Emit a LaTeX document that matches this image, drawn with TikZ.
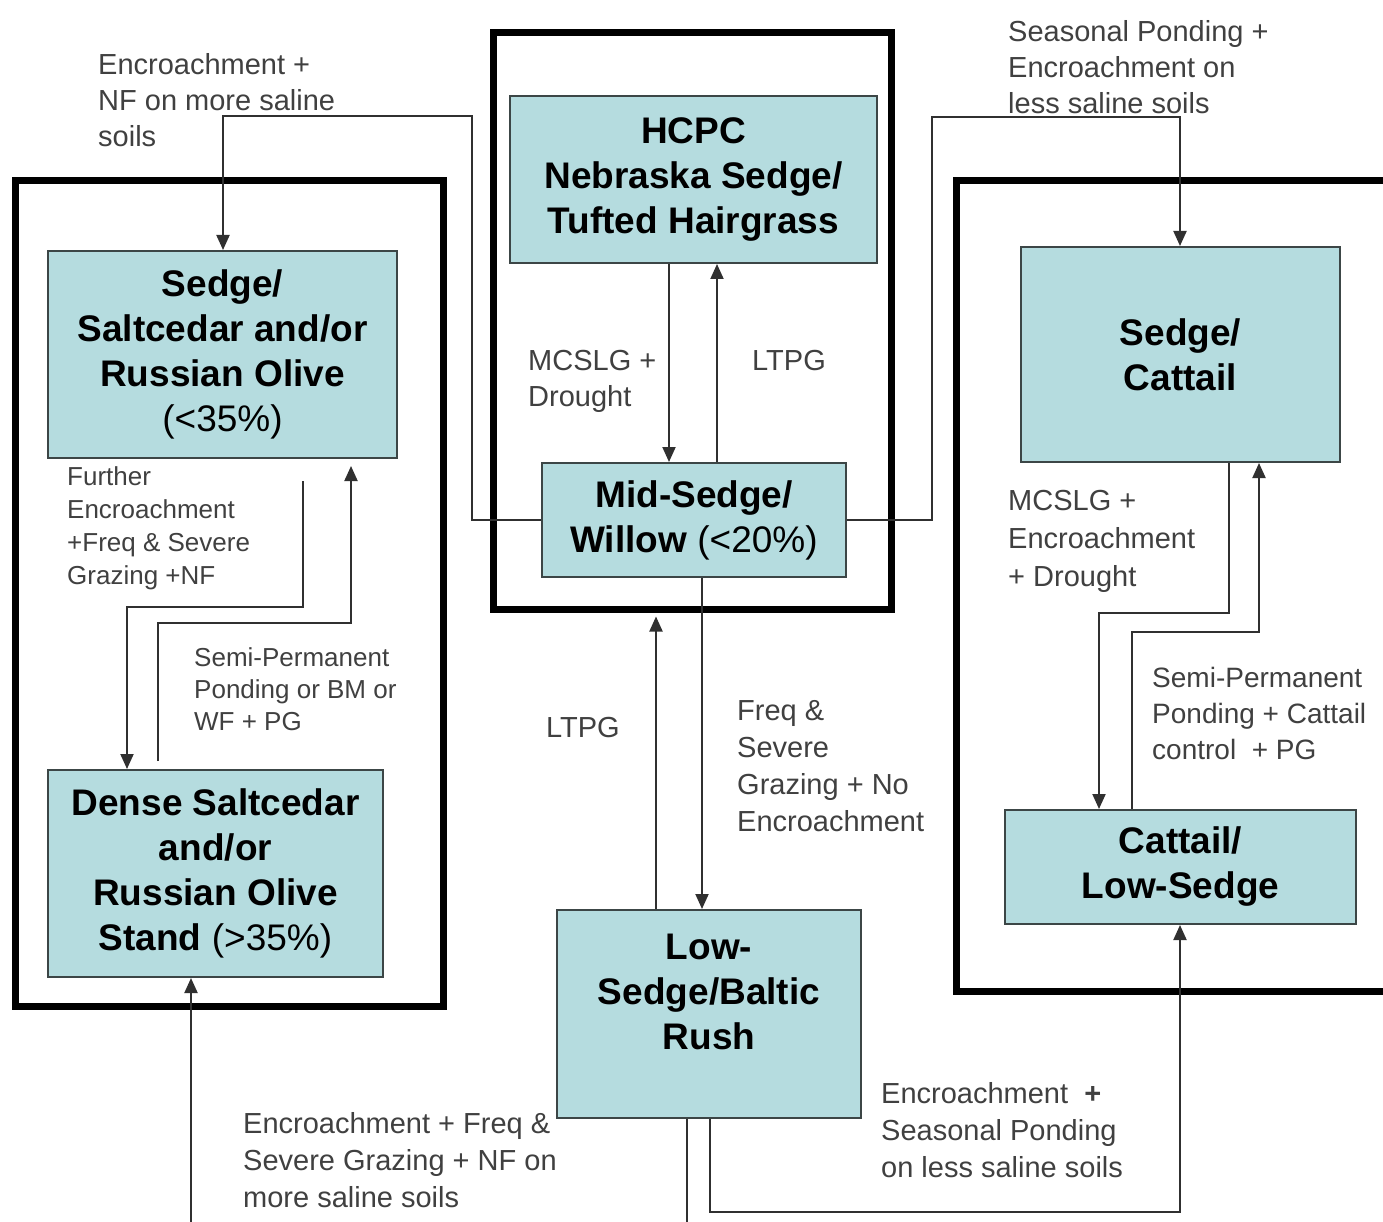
\documentclass[tikz,border=0pt]{standalone}
\usepackage{fontspec}
\setmainfont{Liberation Sans}
\usetikzlibrary{arrows.meta,calc}
\definecolor{boxfill}{HTML}{B5DCDF}
\definecolor{boxline}{HTML}{3C4646}
\definecolor{labgray}{HTML}{404040}
\definecolor{connc}{HTML}{303030}
\begin{document}
\begin{tikzpicture}[x=1pt,y=-1pt,
  box/.style={draw=boxline, line width=2pt, fill=boxfill, align=center, inner sep=0pt,
              font=\fontsize{37}{45}\selectfont\bfseries},
  frame/.style={draw=black, line width=7pt, inner sep=0pt},
  conn/.style={draw=connc, line width=2pt},
  arr/.style={conn, -{Triangle[width=13pt,length=15pt]}},
  lab/.style={anchor=north west, inner sep=0pt, align=left, text=labgray,
              font=\fontsize{29}{36}\selectfont},
  labs/.style={lab, font=\fontsize{26}{33}\selectfont}]
\useasboundingbox (0,0) rectangle (1383,1222);
\clip (0,0) rectangle (1383,1222);
\fill[white] (0,0) rectangle (1383,1222);

% frames
\node[frame, minimum width=428pt, minimum height=825pt] (fl) at (229,593.5) {};
\node[frame, minimum width=398pt, minimum height=576pt] (fc) at (692,321) {};
\node[frame, minimum width=444pt, minimum height=810pt] (fr) at (1178,586) {};

% boxes
\node[box, minimum width=367pt, minimum height=167pt] (hcpc) at (693.5,179.5) {HCPC\\Nebraska Sedge/\\Tufted Hairgrass};
\node[box, minimum width=304pt, minimum height=114pt] (mid) at (694,520) {Mid-Sedge/\\Willow \mdseries(<20\%)};
\node[box, minimum width=349pt, minimum height=207pt] (ss) at (222.5,354.5) {Sedge/\\Saltcedar and/or\\Russian Olive\\\mdseries(<35\%)};
\node[box, minimum width=335pt, minimum height=207pt] (dense) at (215.5,873.5) {Dense Saltcedar\\and/or\\Russian Olive\\Stand \mdseries(>35\%)};
\node[box, minimum width=319pt, minimum height=215pt] (sc) at (1180.5,354.5) {Sedge/\\Cattail};
\node[box, minimum width=351pt, minimum height=114pt] (cl) at (1180.5,867) {Cattail/\\Low-Sedge};
\node[box, minimum width=304pt, minimum height=208pt] (ls) at (709,1014) {Low-\\Sedge/Baltic\\Rush\\\mbox{}};

\coordinate (botA) at (687,1240);
\coordinate (botB) at (191,1240);

% connectors
\draw[arr] (hcpc.south -| 669,0) -- (mid.north -| 669,0);
\draw[arr] (mid.north -| 717,0) -- (hcpc.south -| 717,0);
\draw[arr] (mid.west) -- (472,520) |- (223,116) -- (ss.north -| 223,0);
\draw[arr] (mid.east) -- (932,520) |- (1180,117) -- (sc.north -| 1180,0);
\draw[arr] ($(ss.south -| 303,0)+(0,22)$) |- (127,607) -- (dense.north -| 127,0);
\draw[arr] ($(dense.north -| 158,0)+(0,-8)$) |- (351,623) -- ($(ss.south -| 351,0)+(0,7)$);
\draw[arr] (sc.south -| 1229,0) |- (1099,613) -- (cl.north -| 1099,0);
\draw[arr] (cl.north -| 1132,0) |- (1259,632) -- (sc.south -| 1259,0);
\draw[arr] (mid.south -| 702,0) -- (ls.north -| 702,0);
\draw[arr, shorten >=4pt] (ls.north -| 656,0) -- (fc.south -| 656,0);
\draw[conn] (ls.south -| 687,0) -- (botA);
\draw[arr] (botB) -- (dense.south -| 191,0);
\draw[arr] (ls.south -| 710,0) |- (1180,1212) -- (cl.south -| 1180,0);

% labels
\node[lab] (la) at (98,53) {Encroachment +\\NF on more saline\\soils};
\node[lab] (lb) at (1008,20) {Seasonal Ponding +\\Encroachment on\\less saline soils};
\node[lab] (lc) at (528,350) {MCSLG +\\Drought};
\node[lab] (ld) at (752,350) {LTPG};
\node[labs] (le) at (67,466) {Further\\Encroachment\\+Freq \& Severe\\Grazing +NF};
\node[labs, font=\fontsize{26}{32}\selectfont] (lf) at (194,647) {Semi-Permanent\\Ponding or BM or\\WF + PG};
\node[lab, font=\fontsize{29}{38}\selectfont] (lg) at (1008,490) {MCSLG +\\Encroachment\\+ Drought};
\node[lab, font=\fontsize{28}{36}\selectfont] (lh) at (1152,667) {Semi-Permanent\\Ponding + Cattail\\control\ \ + PG};
\node[lab] (li) at (546,717) {LTPG};
\node[lab, font=\fontsize{29}{37}\selectfont] (lj) at (737,700) {Freq \&\\Severe\\Grazing + No\\Encroachment};
\node[lab, font=\fontsize{29}{37}\selectfont] (lk) at (243,1112) {Encroachment + Freq \&\\Severe Grazing + NF on\\more saline soils};
\node[lab, font=\fontsize{29}{37}\selectfont] (ll) at (881,1082) {Encroachment\ \ \textbf{+}\\Seasonal Ponding\\on less saline soils};
\end{tikzpicture}
\end{document}
